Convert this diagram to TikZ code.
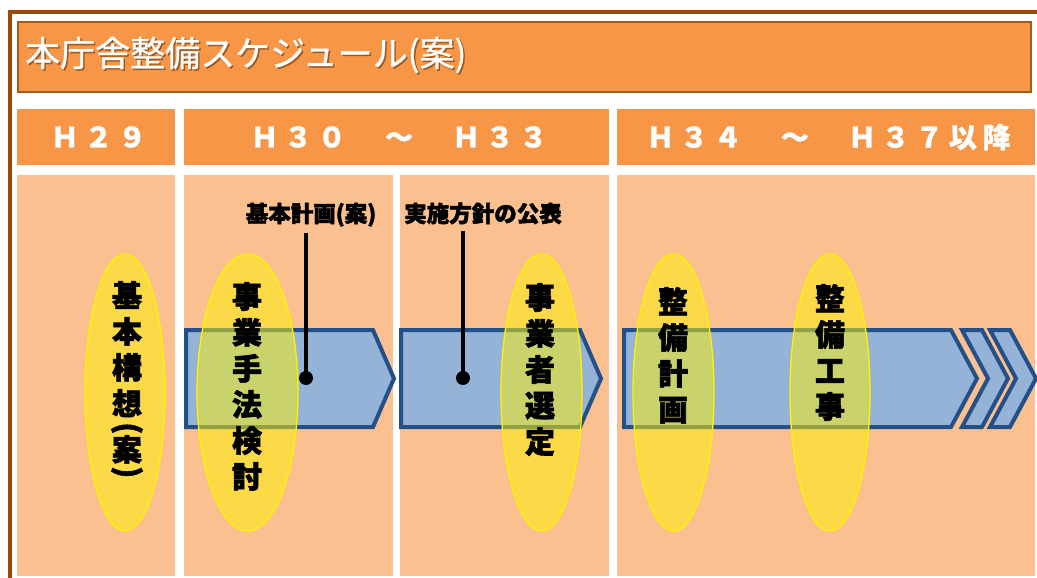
\documentclass[tikz,border=0pt]{standalone}
\usepackage{fontspec}
\newfontfamily\jp[BoldFeatures={FakeBold=1.2}]{Noto Sans CJK JP}
\newfontfamily\jpheavy[BoldFeatures={FakeBold=2}]{Noto Sans CJK JP}
\newfontfamily\jptitle[FakeBold=0.8]{Noto Sans CJK JP}
\newfontfamily\jphdr[LetterSpace=20,BoldFeatures={FakeBold=0.8}]{Noto Sans CJK JP}
\usetikzlibrary{shapes.geometric}
\definecolor{framebrown}{HTML}{9A4A0C}
\definecolor{orng}{HTML}{F79646}
\definecolor{orngedge}{HTML}{A85A1C}
\definecolor{peach}{HTML}{FAC090}
\definecolor{bluefill}{HTML}{95B3D7}
\definecolor{blueedge}{HTML}{24508A}
\definecolor{shadowc}{HTML}{6B3A12}
\newcommand{\vlp}{\rotatebox[origin=c]{-90}{(}}
\newcommand{\vrp}{\rotatebox[origin=c]{-90}{)}}
\begin{document}
\begin{tikzpicture}[x=1pt,y=-1pt,
  cell/.style={rectangle, draw=none, inner sep=0, outer sep=0},
  hdrcell/.style={cell, fill=orng, text=white, font={\jphdr\bfseries\fontsize{28}{30}\selectfont}},
  bodycell/.style={cell, fill=peach},
  arrowshape/.style={fill=bluefill, draw=blueedge, line width=4pt, line join=miter, miter limit=10},
  hilite/.style={ellipse, fill=yellow, fill opacity=0.5, draw=yellow, draw opacity=1, line width=1.3pt, inner sep=0, minimum height=277pt},
  vtext/.style={anchor=north, inner sep=0, align=center, text=black, font={\jpheavy\bfseries\fontsize{30}{36}\selectfont}},
  milestone/.style={inner sep=0, anchor=base, text=black, font={\jpheavy\bfseries\fontsize{22.5}{24}\selectfont}},
  dotmark/.style={circle, fill=black, inner sep=0, minimum size=14pt},
  leader/.style={black, line width=3.6pt}
]
\useasboundingbox (0,0) rectangle (1037,578);
\fill[white] (0,0) rectangle (1037,578);
% outer frame
\draw[framebrown, line width=4.5pt] (10,12) rectangle (1060,600);
% title bar
\node[cell, fill=orng, draw=orngedge, line width=1.5pt, minimum width=1013pt, minimum height=70pt] (titlebar) at (524.5,57) {};
\node[anchor=west, inner sep=0, text=shadowc, opacity=0.6, font={\jptitle\fontsize{35}{38}\selectfont}] (titleshadow) at (26.5,56.5) {本庁舎整備スケジュール(案)};
\node[anchor=west, inner sep=0, text=white, font={\jptitle\fontsize{35}{38}\selectfont}] (title) at (25,55) {本庁舎整備スケジュール(案)};
% header cells
\node[hdrcell, minimum width=158pt, minimum height=56pt] (hdr1) at (96,137) {\hspace{5pt}Ｈ２９};
\node[hdrcell, minimum width=425pt, minimum height=56pt] (hdr2) at (396.5,137) {\hspace{5pt}Ｈ３０　～　Ｈ３３};
\node[hdrcell, minimum width=418pt, minimum height=56pt] (hdr3) at (826,137) {\hspace{5pt}Ｈ３４　～　Ｈ３７以降};
% body cells
\node[bodycell, minimum width=158pt, minimum height=401pt] (col1) at (96,375.5) {};
\node[bodycell, minimum width=209pt, minimum height=401pt] (col2) at (288.5,375.5) {};
\node[bodycell, minimum width=209pt, minimum height=401pt] (col3) at (504.5,375.5) {};
\node[bodycell, minimum width=418pt, minimum height=401pt] (col4) at (826,375.5) {};
% arrows
\draw[arrowshape] (186,330) -- (373,330) -- (394,378.5) -- (373,427) -- (186,427) -- cycle;
\draw[arrowshape] (401,330) -- (580,330) -- (601,378.5) -- (580,427) -- (401,427) -- cycle;
\draw[arrowshape] (624,330) -- (951,330) -- (977,378.5) -- (951,427) -- (624,427) -- cycle;
\draw[arrowshape] (962,330) -- (982,330) -- (1008,378.5) -- (982,427) -- (962,427) -- (988,378.5) -- cycle;
\draw[arrowshape] (990,330) -- (1010,330) -- (1036,378.5) -- (1010,427) -- (990,427) -- (1016,378.5) -- cycle;
% milestone labels, leaders and dots
\node[milestone] (ms1) at (311,222) {基本計画(案)};
\node[milestone] (ms2) at (483,222) {実施方針の公表};
\node[dotmark] (dot1) at (306,378) {};
\node[dotmark] (dot2) at (463,378) {};
\draw[leader, shorten <=6pt] (ms1.south -| dot1) -- (dot1.center);
\draw[leader, shorten <=6pt] (ms2.south -| dot2) -- (dot2.center);
% highlight ellipses
\node[hilite, minimum width=80pt] (el1) at (125,392.5) {};
\node[hilite, minimum width=101pt] (el2) at (247.5,392.5) {};
\node[hilite, minimum width=81pt] (el3) at (541.5,392.5) {};
\node[hilite, minimum width=81pt] (el4) at (673.5,392.5) {};
\node[hilite, minimum width=80pt] (el5) at (830,392.5) {};
% vertical texts
\node[vtext] (t1) at (127,281) {基\\本\\構\\想\\[-13pt]\vlp\\[-13pt]案\\[-15pt]\vrp};
\node[vtext] (t2) at (247,282) {事\\業\\手\\法\\検\\討};
\node[vtext] (t3) at (540,283) {事\\業\\者\\選\\定};
\node[vtext] (t4) at (673,287) {整\\備\\計\\画};
\node[vtext] (t5) at (830,284) {整\\備\\工\\事};
\end{tikzpicture}
\end{document}
